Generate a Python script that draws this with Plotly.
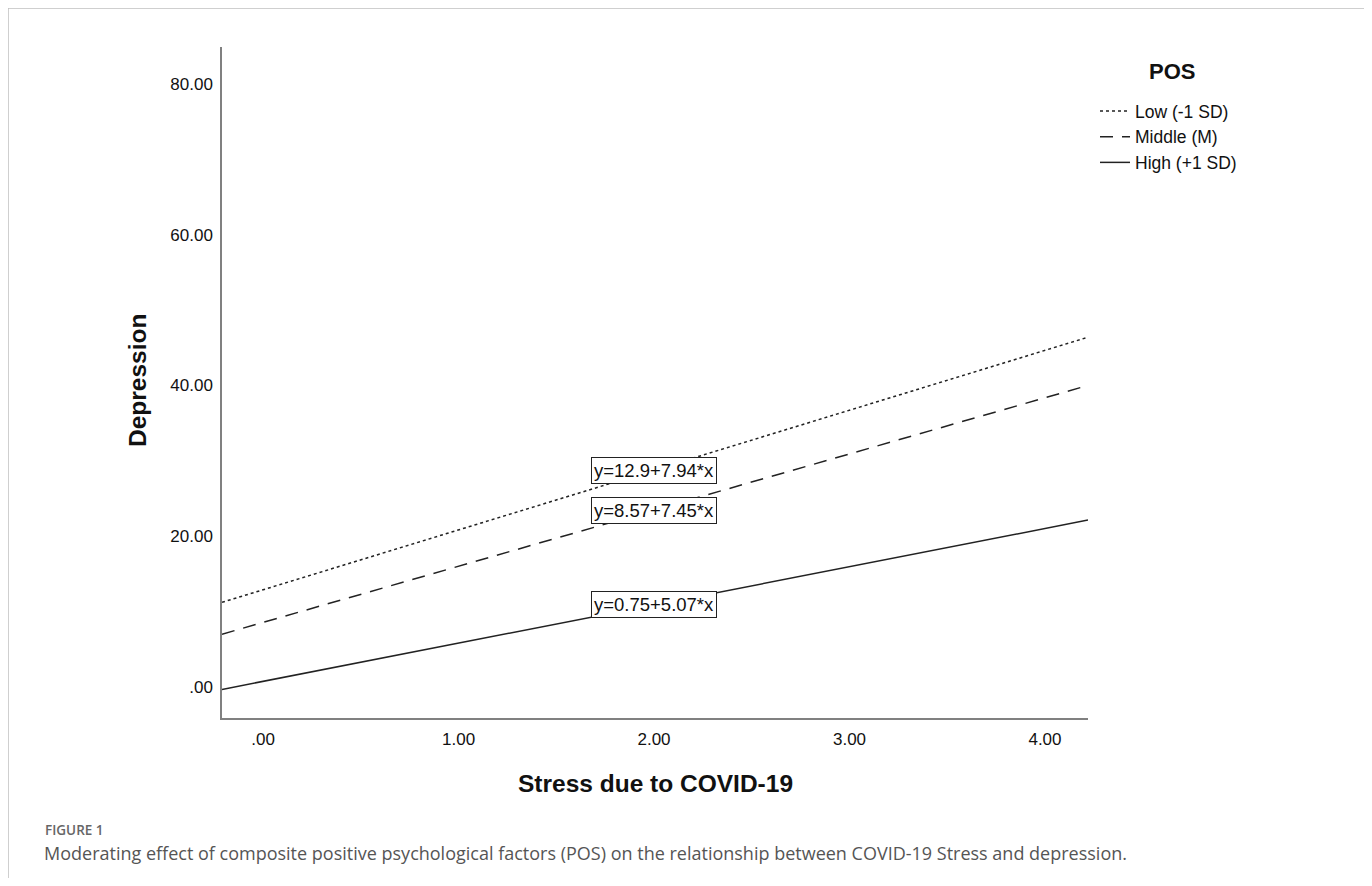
import plotly.graph_objects as go

# ---- data ----
x_range = [-0.21, 4.22]
y_range = [-4.11, 84.9]
groups = ["Low (-1 SD)", "Middle (M)", "High (+1 SD)"]
intercepts = [12.9, 8.57, 0.75]
slopes = [7.94, 7.45, 5.07]
equations = ["y=12.9+7.94*x", "y=8.57+7.45*x", "y=0.75+5.07*x"]
label_x = 2.0
x_tickvals = [0, 1, 2, 3, 4]
x_ticktext = [".00", "1.00", "2.00", "3.00", "4.00"]
y_tickvals = [0, 20, 40, 60, 80]
y_ticktext = [".00", "20.00", "40.00", "60.00", "80.00"]

dashes = ["3px,3px", "13px,9px", "solid"]
FONT = "Liberation Sans, Arial, sans-serif"
CAPFONT = "Open Sans, Lato, sans-serif"

# plot area in page pixels (page has 8px body margin)
PL, PR, PT, PB = 222, 1088, 47, 718


def px(xp):
    return (xp - PL) / (PR - PL)


def py(yp):
    return (PB - yp) / (PB - PT)


fig = go.Figure()
for g, a, b, d in zip(groups, intercepts, slopes, dashes):
    fig.add_trace(go.Scatter(
        x=x_range, y=[a + b * x_range[0], a + b * x_range[1]],
        mode="lines", name=g,
        line=dict(color="#222222", width=1.5, dash=d),
        hoverinfo="skip",
    ))

for eq, a, b in zip(equations, intercepts, slopes):
    fig.add_annotation(
        x=label_x, y=a + b * label_x, xref="x", yref="y",
        xanchor="center", yanchor="middle",
        text=eq, showarrow=False,
        font=dict(family=FONT, size=18.5, color="#111111"),
        bgcolor="white", bordercolor="#222222", borderwidth=1, borderpad=2,
    )

# axis titles
fig.add_annotation(x=px(655), y=py(783), xref="paper", yref="paper",
                   xanchor="center", yanchor="middle",
                   text="<b>Stress due to COVID-19</b>", showarrow=False,
                   font=dict(family=FONT, size=24.5, color="#111111"))
fig.add_annotation(x=px(137), y=py(381), xref="paper", yref="paper",
                   xanchor="center", yanchor="middle",
                   text="<b>Depression</b>", showarrow=False, textangle=-90,
                   font=dict(family=FONT, size=24.5, color="#111111"))

# legend title
fig.add_annotation(x=px(1172), y=py(72), xref="paper", yref="paper",
                   xanchor="center", yanchor="middle",
                   text="<b>POS</b>", showarrow=False,
                   font=dict(family=FONT, size=22, color="#111111"))

# caption
fig.add_annotation(x=px(43), y=py(830), xref="paper", yref="paper",
                   xanchor="left", yanchor="middle", text="FIGURE 1", showarrow=False,
                   font=dict(family=CAPFONT, size=13.5, color="#666666", weight=600))
fig.add_annotation(x=px(42), y=py(853), xref="paper", yref="paper",
                   xanchor="left", yanchor="middle",
                   text="Moderating effect of composite positive psychological factors (POS) on the relationship between COVID-19 Stress and depression.",
                   showarrow=False,
                   font=dict(family=CAPFONT, size=18, color="#555555"))

# outer frame
fig.add_shape(type="rect", xref="paper", yref="paper",
              x0=px(8), x1=px(1368), y0=py(900), y1=py(8),
              line=dict(color="#c0c0c0", width=1.5), layer="below")

W, H = 1364, 870
fig.update_layout(
    width=W, height=H,
    margin=dict(l=PL - 8, r=W - (PR - 8), t=PT - 8, b=H - (PB - 8)),
    plot_bgcolor="white", paper_bgcolor="white",
    font=dict(family=FONT, color="#111111"),
    legend=dict(
        x=px(1095), xanchor="left", y=py(93), yanchor="top",
        font=dict(size=17.5, family=FONT, color="#111111"),
        bgcolor="rgba(0,0,0,0)", itemwidth=30, tracegroupgap=0,
    ),
    xaxis=dict(range=x_range, tickvals=x_tickvals, ticktext=x_ticktext,
               showgrid=False, zeroline=False, showline=True, linecolor="#808080",
               linewidth=1.5, ticks="", tickfont=dict(size=17, family=FONT, color="#111111"),
               ticklabelstandoff=5),
    yaxis=dict(range=y_range, tickvals=y_tickvals, ticktext=y_ticktext,
               showgrid=False, zeroline=False, showline=True, linecolor="#808080",
               linewidth=1.5, ticks="", tickfont=dict(size=17, family=FONT, color="#111111"),
               ticklabelstandoff=4),
)

fig.write_html("out.html")
